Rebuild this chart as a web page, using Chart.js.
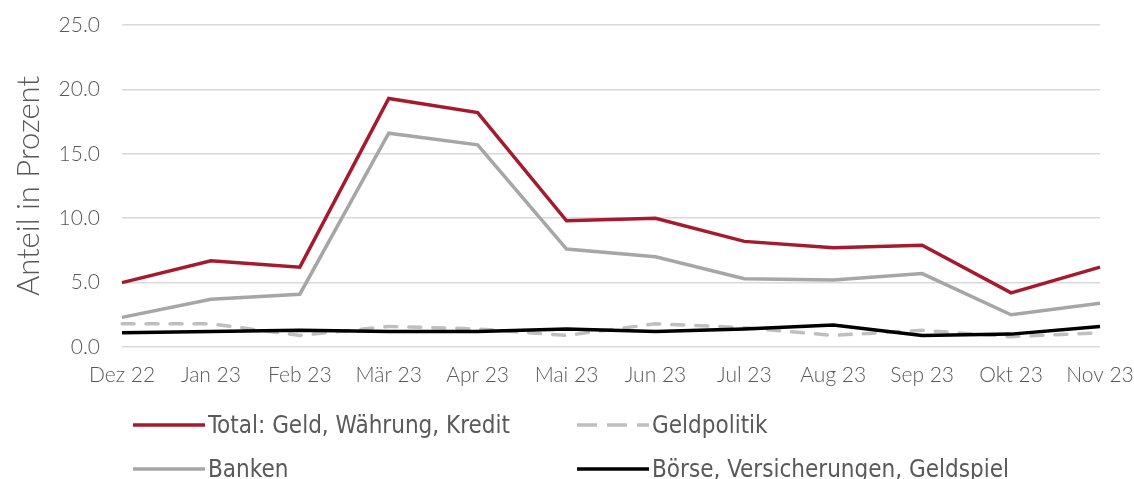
<!DOCTYPE html>
<html lang="de">
<head>
<meta charset="utf-8">
<script src="https://cdn.jsdelivr.net/npm/chart.js@4"></script>
<style>
  html, body { margin: 0; padding: 0; background: #fff; }
  #wrap { position: relative; width: 1134px; height: 479px; overflow: hidden; }
  #legend { position: absolute; left: 133px; top: 403px; font: 24px "Liberation Sans Narrow", "DejaVu Sans Condensed", sans-serif; color: #595959; }
  .row { display: flex; height: 44px; align-items: center; }
  .item { display: flex; align-items: center; }
  .item:first-child { width: 444px; }
  .item svg { width: 72px; height: 8px; margin-right: 3px; }
</style>
</head>
<body>
<div id="wrap">
  <canvas id="chart" width="1134" height="479"></canvas>
  <div id="legend"></div>
</div>
<script>
// ========== Data ==========
const months = ["Dez 22", "Jan 23", "Feb 23", "Mär 23", "Apr 23", "Mai 23", "Jun 23", "Jul 23", "Aug 23", "Sep 23", "Okt 23", "Nov 23"];
const total = [5.0, 6.7, 6.2, 19.3, 18.2, 9.8, 10.0, 8.2, 7.7, 7.9, 4.2, 6.2];
const geldpolitik = [1.8, 1.8, 0.9, 1.6, 1.4, 0.9, 1.8, 1.5, 0.9, 1.3, 0.8, 1.1];
const banken = [2.3, 3.7, 4.1, 16.6, 15.7, 7.6, 7.0, 5.3, 5.2, 5.7, 2.5, 3.4];
const boerse = [1.1, 1.2, 1.3, 1.2, 1.2, 1.4, 1.2, 1.4, 1.7, 0.9, 1.0, 1.6];
const yTicks = [0, 5, 10, 15, 20, 25];

const tickFont = { family: "Lato, 'Open Sans', sans-serif", size: 21, weight: "300" };

const series = [
  { label: "Total: Geld, Währung, Kredit", data: total, color: "#A51A2E", dash: [] },
  { label: "Geldpolitik", data: geldpolitik, color: "#BFBFBF", dash: [12, 12] },
  { label: "Banken", data: banken, color: "#A6A6A6", dash: [] },
  { label: "Börse, Versicherungen, Geldspiel", data: boerse, color: "#000000", dash: [] }
];
// draw order: red on top, dashed at the bottom
const drawOrder = [0, 3, 2, 1];

const chart = new Chart(document.getElementById("chart"), {
  type: "line",
  data: {
    labels: months,
    datasets: series.map((s, i) => ({
      label: s.label,
      data: s.data,
      borderColor: s.color,
      borderWidth: 3.5,
      borderDash: s.dash,
      borderCapStyle: s.dash.length ? "round" : "butt",
      pointRadius: 0,
      tension: 0,
      order: drawOrder[i]
    }))
  },
  options: {
    responsive: false,
    animation: false,
    layout: { padding: { top: 25, right: 0, bottom: 0, left: 0 } },
    plugins: { legend: { display: false }, tooltip: { enabled: false } },
    scales: {
      x: {
        offset: false,
        grid: { display: false },
        border: { display: false },
        ticks: { color: "#595959", font: tickFont, padding: 8, maxRotation: 0, autoSkip: false },
        afterFit: (s) => { s.height = 132; s.paddingRight = 34; }
      },
      y: {
        min: 0,
        max: 25,
        afterBuildTicks: (s) => { s.ticks = yTicks.map(v => ({ value: v })); },
        grid: { color: "#D9D9D9", lineWidth: 1.5, drawTicks: false },
        border: { display: false },
        ticks: { color: "#595959", font: tickFont, padding: 22, callback: (v) => v.toFixed(1) },
        title: { display: true, text: "Anteil in Prozent", color: "#595959", font: { family: "Lato, 'Open Sans', sans-serif", size: 31, weight: "300" }, padding: { top: 10, bottom: 0 } },
        afterFit: (s) => { s.width = 122; s.paddingTop = 0; s.paddingBottom = 0; }
      }
    }
  }
});

// ========== Legend (two columns) ==========
const legend = document.getElementById("legend");
const rowsOf = [[0, 1], [2, 3]];
rowsOf.forEach(r => {
  const row = document.createElement("div");
  row.className = "row";
  r.forEach(i => {
    const s = series[i];
    const it = document.createElement("div");
    it.className = "item";
    const dash = s.dash.length ? 'stroke-dasharray="20 10"' : "";
    it.innerHTML = `<svg viewBox="0 0 72 8"><line x1="0" y1="4" x2="72" y2="4" stroke="${s.color}" stroke-width="3.5" ${dash}/></svg><span>${s.label}</span>`;
    row.appendChild(it);
  });
  legend.appendChild(row);
});
</script>
</body>
</html>
